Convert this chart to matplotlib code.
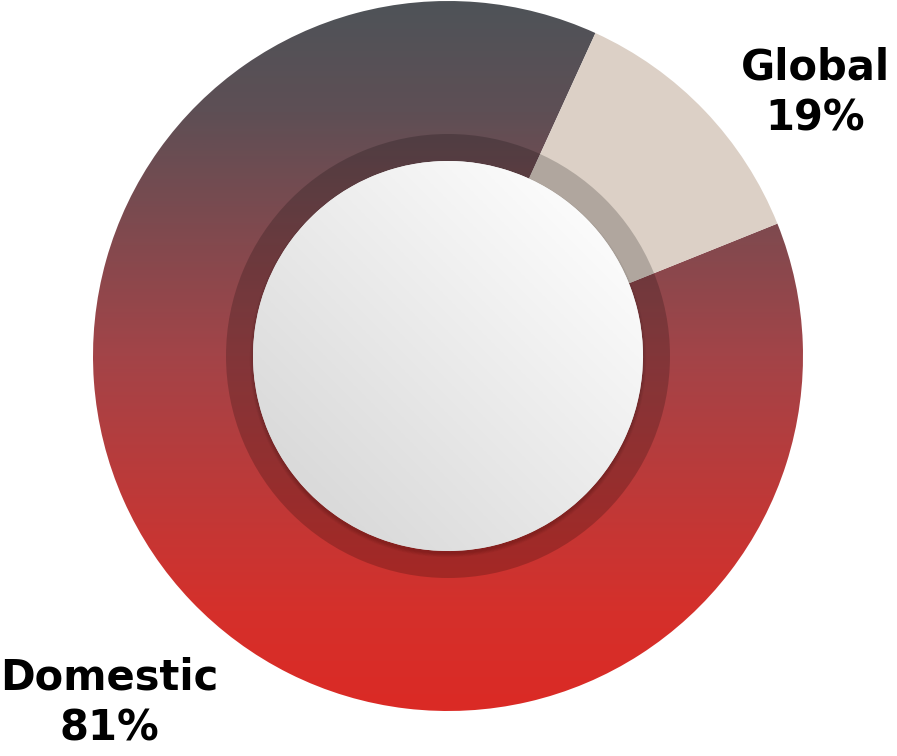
import numpy as np
import matplotlib
matplotlib.use('Agg')
import matplotlib.pyplot as plt
from matplotlib.colors import LinearSegmentedColormap
from matplotlib.patches import Circle, Wedge

# data
categories = ['Global', 'Domestic']
shares = [19, 81]              # as printed in the labels
arc_shares = [12.1, 87.9]      # as the slices are actually drawn
start_angle = 21.9
global_color = '#dcd0c6'
ramp_stops = [0.0, 0.14, 0.5, 0.845, 1.0]   # bottom -> top of the ring
ramp_colors = ['#db2a25', '#d5302b', '#a34448', '#5e4f55', '#4e5358']

W, H = 897, 756
cx, cy = 448, H - 356
r_out, r_band, r_in = 355, 222, 195

fig = plt.figure(figsize=(W / 100, H / 100), dpi=100)
ax = fig.add_axes([0, 0, 1, 1])

wedges, _ = ax.pie(arc_shares, startangle=start_angle, counterclock=True,
                   radius=r_out, center=(cx, cy),
                   colors=[global_color, 'none'],
                   wedgeprops=dict(width=r_out - r_in, linewidth=0))

# vertical gradient for Domestic slice
ramp = LinearSegmentedColormap.from_list('ramp', list(zip(ramp_stops, ramp_colors)))
grad = np.linspace(0, 1, 512).reshape(-1, 1)
im = ax.imshow(grad, cmap=ramp, origin='lower', aspect='auto',
               extent=(cx - r_out, cx + r_out, cy - r_out, cy + r_out), zorder=1)
im.set_clip_path(wedges[1])
wedges[0].set_zorder(2)

# darker inner band
band = Wedge((cx, cy), r_band, 0, 360, width=r_band - r_in, facecolor='black',
             alpha=0.2, linewidth=0, zorder=3)
ax.add_patch(band)

# soft shadow under the white disc
for k in range(5):
    ax.add_patch(Circle((cx, cy - 3), r_in + k * 0.8, facecolor='black',
                        alpha=0.03, linewidth=0, zorder=4))

# white disc with diagonal gradient
disc = Circle((cx, cy), r_in, facecolor='none', linewidth=0, zorder=5)
ax.add_patch(disc)
yy, xx = np.mgrid[-1:1:300j, -1:1:300j]
shade = np.clip((xx + yy) / 2.8 + 0.5, 0, 1)
disc_cmap = LinearSegmentedColormap.from_list('disc', ['#dadada', '#fbfbfb'])
dim = ax.imshow(shade, cmap=disc_cmap, origin='lower', aspect='auto',
                extent=(cx - r_in, cx + r_in, cy - r_in, cy + r_in), zorder=5)
dim.set_clip_path(disc)

label_pos = {'Global': (815, H - 93), 'Domestic': (109, H - 703)}
for name, pct in zip(categories, shares):
    x, y = label_pos[name]
    ax.text(x, y, f'{name}\n{pct}%', ha='center', va='center',
            fontsize=30, fontweight='bold', family='DejaVu Sans',
            linespacing=1.28, color='black', zorder=6)

ax.set_xlim(0, W)
ax.set_ylim(0, H)
ax.set_aspect('auto')
ax.axis('off')

fig.savefig('out.png', dpi=100)
